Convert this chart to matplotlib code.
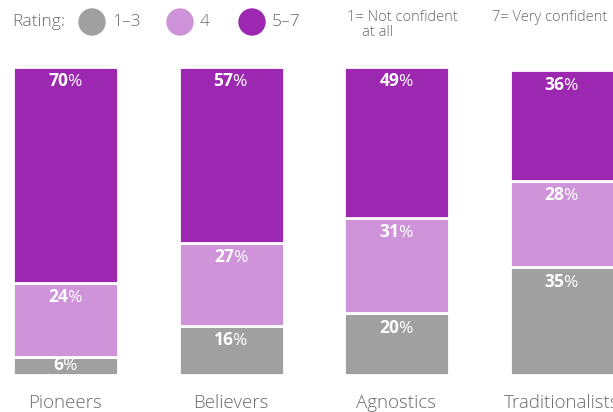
import matplotlib.pyplot as plt
from matplotlib.patches import Circle

plt.rcParams['font.family'] = ['Open Sans', 'DejaVu Sans']
plt.rcParams['mathtext.fontset'] = 'custom'
plt.rcParams['mathtext.rm'] = 'Open Sans'
plt.rcParams['mathtext.bf'] = 'Open Sans:bold'

# data
segments = ['Pioneers', 'Believers', 'Agnostics', 'Traditionalists']
low = [6, 16, 20, 35]      # rating 1-3
mid = [24, 27, 31, 28]     # rating 4
high = [70, 57, 49, 36]    # rating 5-7
rating_labels = ['1–3', '4', '5–7']

GREY = '#a0a0a0'
LIGHT = '#ce93d8'
PURPLE = '#9c27b0'
TEXT = '#6a6a6a'
colors = [GREY, LIGHT, PURPLE]

fig = plt.figure(figsize=(6.13, 4.12), dpi=100)
ax = fig.add_axes([0, 1 - 375 / 412, 1, (375 - 67) / 412])

x = list(range(len(segments)))
width = 105 / 165.5
px_per_unit = 308 / 100
bottoms = [0] * len(segments)
for series, color in zip([low, mid, high], colors):
    ax.bar(x, series, width=width, bottom=bottoms, color=color,
           edgecolor='white', linewidth=2)
    for i, v in enumerate(series):
        top = bottoms[i] + v
        # small segments get the label centred, others near the top
        off = -min(15, v * px_per_unit / 2)
        ax.annotate(f'$\\mathbf{{{v}}}$%', (x[i], top), xytext=(0, off),
                    textcoords='offset pixels', ha='center', va='center',
                    color='white', fontsize=12.5)
    bottoms = [b + v for b, v in zip(bottoms, series)]

ax.set_xlim(-65.5 / 165.5, (613 - 65.5) / 165.5)
ax.set_ylim(0, 100)
ax.axis('off')

for i, name in enumerate(segments):
    ax.annotate(name, (x[i], 0), xytext=(0, -28), textcoords='offset pixels',
                ha='center', va='center', color=TEXT, fontsize=13.5,
                fontweight='light')

# legend in pixel space
lax = fig.add_axes([0, 0, 1, 1])
lax.set_xlim(0, 613)
lax.set_ylim(412, 0)
lax.axis('off')
lax.text(12, 22, 'Rating:', ha='left', va='center', color=TEXT, fontsize=12.5,
         fontweight='light')
for cx, color, lab in zip([92, 180, 252], colors, rating_labels):
    lax.add_patch(Circle((cx, 22), 13, color=color))
    lax.text(cx + 20, 22, lab, ha='left', va='center', color=TEXT,
             fontsize=12.5, fontweight='light')
lax.text(347, 25, '1= Not confident\n    at all', ha='left', va='center',
         color=TEXT, fontsize=10.5, linespacing=0.95, fontweight='light')
lax.text(492, 17, '7= Very confident', ha='left', va='center',
         color=TEXT, fontsize=10.5, fontweight='light')

fig.savefig('out.png', dpi=100)
